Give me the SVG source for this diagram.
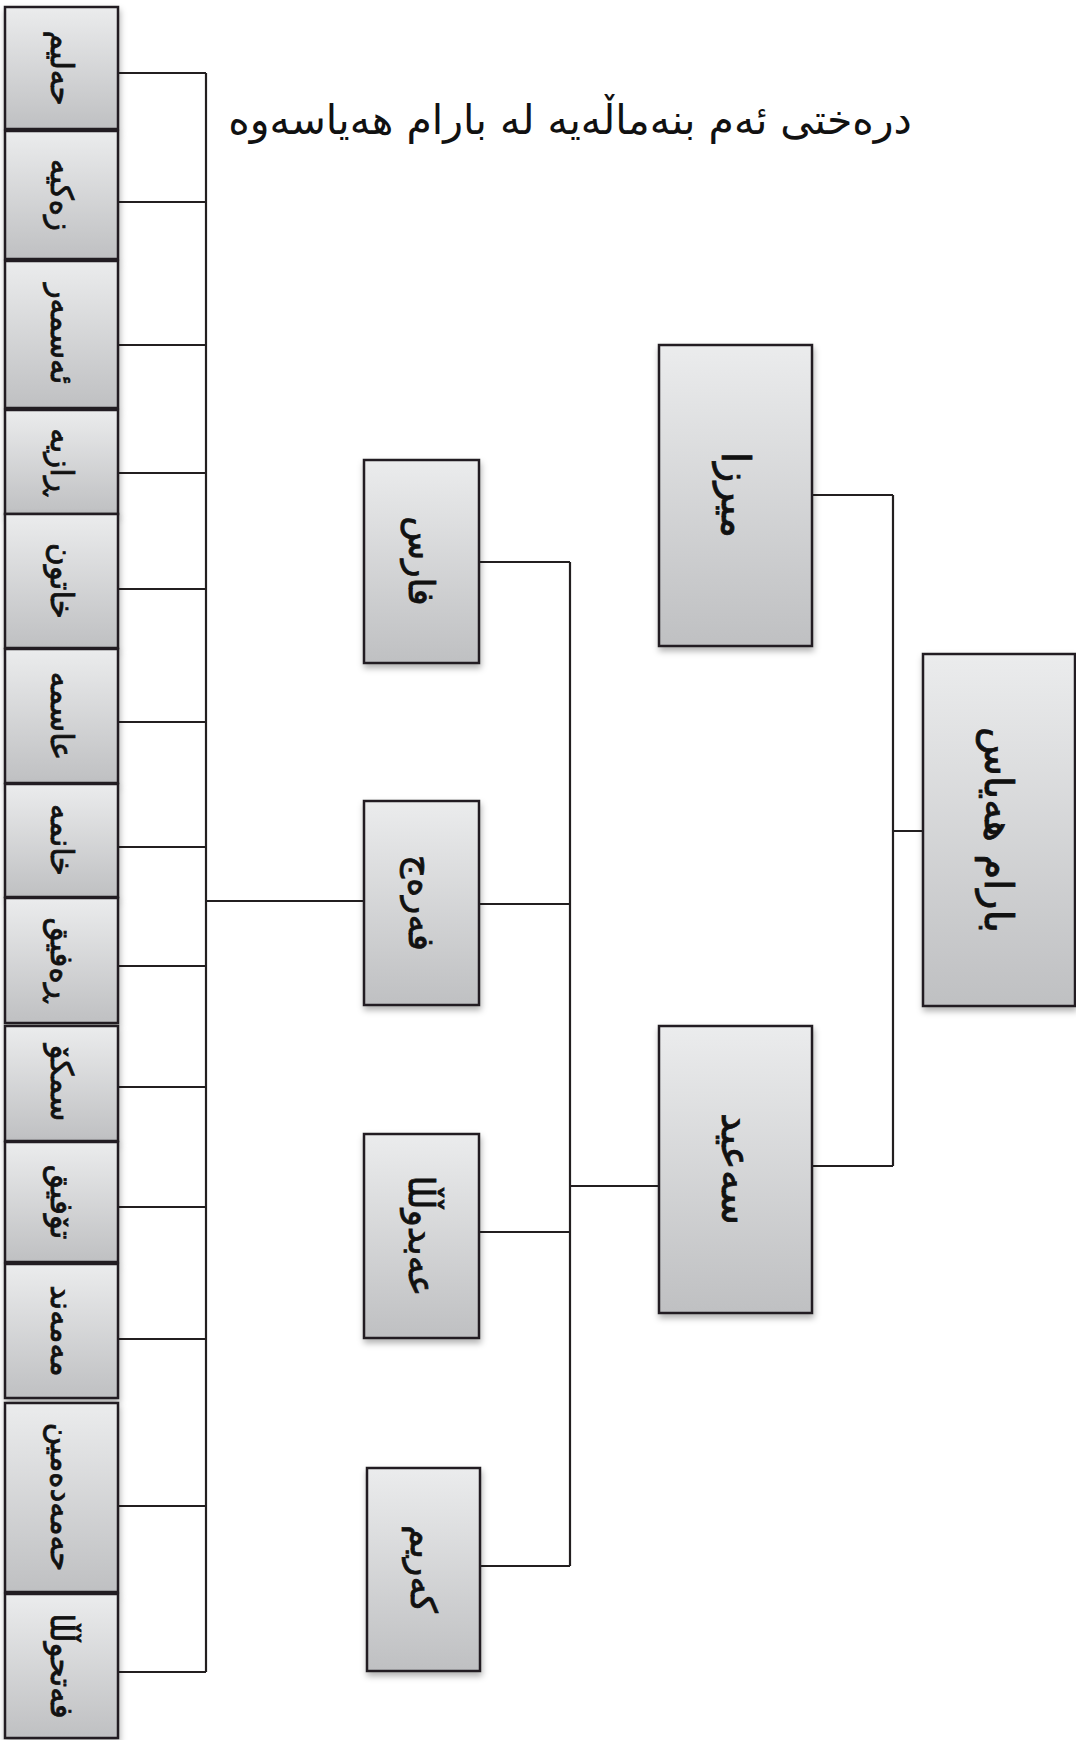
<svg xmlns="http://www.w3.org/2000/svg" width="1076" height="1740" viewBox="0 0 1076 1740">
<defs>
<linearGradient id="g" x1="0" y1="0" x2="0" y2="1">
<stop offset="0" stop-color="#ebeced"/>
<stop offset="1" stop-color="#bfc0c2"/>
</linearGradient>
<filter id="sh" x="-20%" y="-20%" width="140%" height="140%">
<feDropShadow dx="1" dy="4" stdDeviation="3" flood-color="#000" flood-opacity="0.3"/>
</filter>
</defs>
<style>
.box{fill:url(#g);stroke:#231f20;stroke-width:2.5;filter:url(#sh)}
.lbl{font-family:"DejaVu Sans",sans-serif;fill:#111;stroke:#111;stroke-width:0.8;text-anchor:middle;dominant-baseline:central}
.s{font-size:31px}
.m{font-size:36px}
.l{font-size:40px}
.c{fill:none;stroke:#231f20;stroke-width:2.2}
.title{font-family:"DejaVu Sans",sans-serif;font-size:41px;fill:#111;text-anchor:middle}
</style>
<rect width="1076" height="1740" fill="#fff"/>
<text class="title" x="570" y="134" direction="rtl">درەختی ئەم بنەماڵەیە لە بارام هەیاسەوە</text>
<g id="connectors">
<path class="c" d="M118 73H206M118 202H206M118 345H206M118 473H206M118 589H206M118 722H206M118 847H206M118 966H206M118 1087H206M118 1207H206M118 1339H206M118 1506H206M118 1672H206M206 73V1672M206 901H364"/>
<path class="c" d="M479 562H570M479 904H570M479 1232H570M480 1566H570M570 562V1566M570 1186H659"/>
<path class="c" d="M812 495H893M812 1166H893M893 495V1166M893 831H923"/>
</g>
<g id="n1"><rect class="box" x="5" y="7" width="113" height="122"/><text class="lbl s" transform="translate(61.5 68) rotate(90)">حەلیم</text></g>
<g id="n2"><rect class="box" x="5" y="131" width="113" height="128"/><text class="lbl s" transform="translate(61.5 195) rotate(90)">زەکیە</text></g>
<g id="n3"><rect class="box" x="5" y="261" width="113" height="147"/><text class="lbl s" transform="translate(61.5 334) rotate(90)">ئەسمەر</text></g>
<g id="n4"><rect class="box" x="5" y="410" width="113" height="104"/><text class="lbl s" transform="translate(61.5 462) rotate(90)">ڕازیە</text></g>
<g id="n5"><rect class="box" x="5" y="514" width="113" height="134"/><text class="lbl s" transform="translate(61.5 581) rotate(90)">خاتون</text></g>
<g id="n6"><rect class="box" x="5" y="649" width="113" height="134"/><text class="lbl s" transform="translate(61.5 716) rotate(90)">عاسمە</text></g>
<g id="n7"><rect class="box" x="5" y="784" width="113" height="113"/><text class="lbl s" transform="translate(61.5 840) rotate(90)">خانمە</text></g>
<g id="n8"><rect class="box" x="5" y="898" width="113" height="125"/><text class="lbl s" transform="translate(61.5 960) rotate(90)">ڕەفیق</text></g>
<g id="n9"><rect class="box" x="5" y="1026" width="113" height="115"/><text class="lbl s" transform="translate(61.5 1083) rotate(90)">سمکۆ</text></g>
<g id="n10"><rect class="box" x="5" y="1142" width="113" height="120"/><text class="lbl s" transform="translate(61.5 1202) rotate(90)">تۆفیق</text></g>
<g id="n11"><rect class="box" x="5" y="1264" width="113" height="134"/><text class="lbl s" transform="translate(61.5 1331) rotate(90)">مەمەند</text></g>
<g id="n12"><rect class="box" x="5" y="1403" width="113" height="189"/><text class="lbl s" transform="translate(61.5 1497) rotate(90)">حەمەدەمین</text></g>
<g id="n13"><rect class="box" x="5" y="1594" width="113" height="144"/><text class="lbl s" transform="translate(61.5 1666) rotate(90)">فەتحوڵڵا</text></g>
<g id="fares"><rect class="box" x="364" y="460" width="115" height="203"/><text class="lbl m" transform="translate(421.5 561) rotate(90)">فارس</text></g>
<g id="faraj"><rect class="box" x="364" y="801" width="115" height="204"/><text class="lbl m" transform="translate(421.5 903) rotate(90)">فەرەج</text></g>
<g id="abdulla"><rect class="box" x="364" y="1134" width="115" height="204"/><text class="lbl m" transform="translate(421.5 1236) rotate(90)">عەبدوڵڵا</text></g>
<g id="karim"><rect class="box" x="367" y="1468" width="113" height="203"/><text class="lbl m" transform="translate(423.5 1569) rotate(90)">کەریم</text></g>
<g id="mirza"><rect class="box" x="659" y="345" width="153" height="301"/><text class="lbl l" transform="translate(735.5 495) rotate(90)">میرزا</text></g>
<g id="said"><rect class="box" x="659" y="1026" width="153" height="287"/><text class="lbl l" transform="translate(735.5 1169) rotate(90)">سەعید</text></g>
<g id="barham"><rect class="box" x="923" y="654" width="152" height="352"/><text class="lbl l" transform="translate(999 830) rotate(90)">بارام هەیاس</text></g>
</svg>
